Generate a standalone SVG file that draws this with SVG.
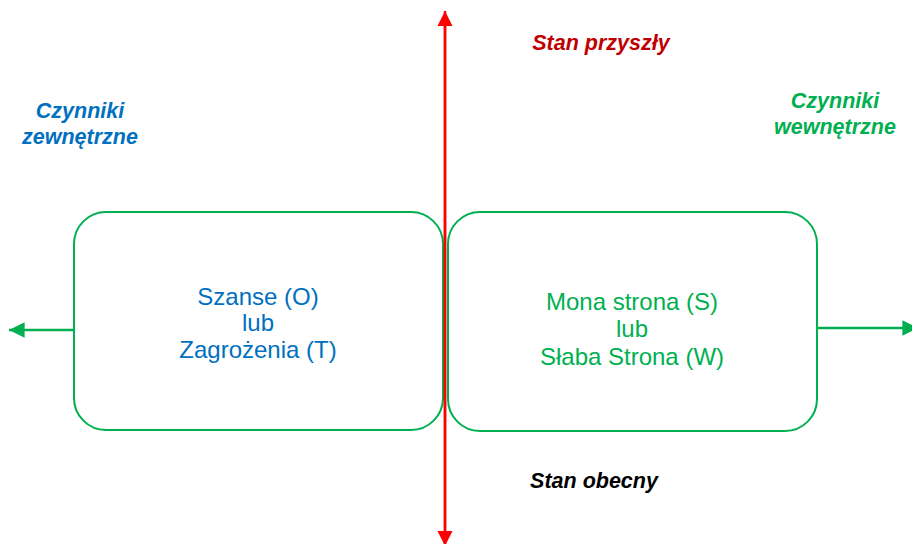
<svg xmlns="http://www.w3.org/2000/svg" width="912" height="544" viewBox="0 0 912 544">
<style>
.box{fill:#fff;stroke:#00B050;stroke-width:2}
.lbl{font-family:"Liberation Sans",Arial,sans-serif;font-size:24px;text-anchor:middle}
.hdr{font-family:"Liberation Sans",Arial,sans-serif;font-size:21.5px;font-weight:bold;font-style:italic;text-anchor:middle}
</style>
<defs>
<marker id="ag" viewBox="0 0 10 10" refX="10" refY="5" markerWidth="6" markerHeight="6" orient="auto" markerUnits="strokeWidth">
<path d="M0,0 L10,5 L0,10 z" fill="#00B050"/>
</marker>
<marker id="ar" viewBox="0 0 10 10" refX="10" refY="5" markerWidth="6" markerHeight="6.5" orient="auto" markerUnits="strokeWidth">
<path d="M0,0 L10,5 L0,10 z" fill="#FF0000"/>
</marker>
</defs>
<rect width="912" height="544" fill="#fff"/>
<g id="connectors">
<line x1="74" y1="330" x2="9" y2="330" stroke="#00B050" stroke-width="2.6" marker-end="url(#ag)"/>
<line x1="817" y1="328" x2="918" y2="328" stroke="#00B050" stroke-width="2.6" marker-end="url(#ag)"/>
</g>
<g id="box-left">
<rect class="box" x="74" y="212" width="369" height="218" rx="32"/>
<text class="lbl" x="258" y="305" fill="#0070C0">Szanse (O)</text>
<text class="lbl" x="258" y="331" fill="#0070C0">lub</text>
<text class="lbl" x="258" y="358" fill="#0070C0">Zagrożenia (T)</text>
</g>
<g id="box-right">
<rect class="box" x="448" y="212" width="369" height="219" rx="32"/>
<text class="lbl" x="632" y="310" fill="#00B050">Mona strona (S)</text>
<text class="lbl" x="632" y="337" fill="#00B050">lub</text>
<text class="lbl" x="632" y="365" fill="#00B050">Słaba Strona (W)</text>
</g>
<g id="axis">
<line x1="445" y1="540" x2="445" y2="11" stroke="#FF0000" stroke-width="2.5" marker-end="url(#ar)"/>
<line x1="445" y1="20" x2="445" y2="546" stroke="#FF0000" stroke-width="2.5" marker-end="url(#ar)"/>
</g>
<g id="labels">
<text class="hdr" x="601" y="50" fill="#C00000">Stan przyszły</text>
<text class="hdr" x="80" y="118" fill="#0070C0">Czynniki</text>
<text class="hdr" x="80" y="144" fill="#0070C0">zewnętrzne</text>
<text class="hdr" x="835" y="108" fill="#00B050">Czynniki</text>
<text class="hdr" x="835" y="134" fill="#00B050">wewnętrzne</text>
<text class="hdr" x="594" y="488" fill="#000">Stan obecny</text>
</g>
</svg>
